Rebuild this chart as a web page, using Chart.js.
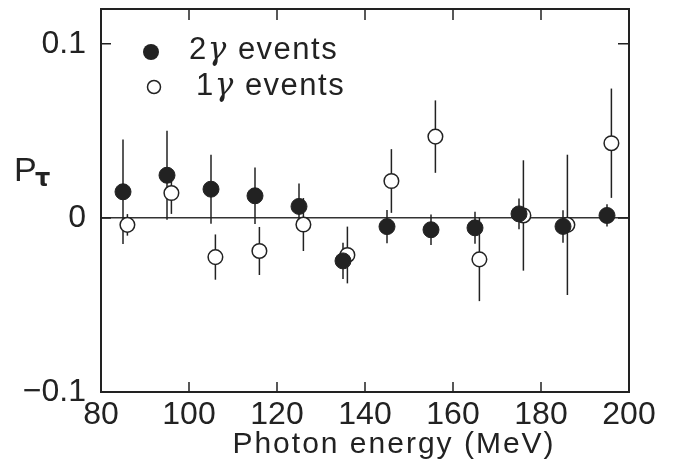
<!DOCTYPE html>
<html>
<head>
<meta charset="utf-8">
<script src="https://cdn.jsdelivr.net/npm/chart.js@4.4.1/dist/chart.umd.min.js"></script>
<style>
	html, body { margin: 0; padding: 0; background: #fff; }
	#wrap { width: 678px; height: 465px; }
</style>
</head>
<body>
<div id="wrap"><canvas id="chart"></canvas></div>
<script>
// photon energy bins (MeV)
var energy2g = [85, 95, 105, 115, 125, 135, 145, 155, 165, 175, 185, 195];
var energy1g = [86, 96, 106, 116, 126, 136, 146, 156, 166, 176, 186, 196];

// P_tau for 2 gamma events and its error
var pol2g = [0.015, 0.0245, 0.0165, 0.0127, 0.0066, -0.0247, -0.005, -0.0068, -0.0057, 0.0023, -0.0049, 0.0014];
var err2g = [0.030, 0.0255, 0.0198, 0.0162, 0.0131, 0.0104, 0.0095, 0.0088, 0.0092, 0.0088, 0.0093, 0.0064];

// P_tau for 1 gamma events and its error
var pol1g = [-0.004, 0.0143, -0.0225, -0.019, -0.0038, -0.0213, 0.0212, 0.0467, -0.0238, 0.0014, -0.004, 0.0429];
var err1g = [0.0062, 0.012, 0.013, 0.0138, 0.0152, 0.0163, 0.0183, 0.0208, 0.024, 0.0317, 0.0403, 0.0314];

var xTicks = [80, 100, 120, 140, 160, 180, 200];
var yTicks = [-0.1, 0, 0.1];

var ink = '#222';
var fontName = '"Liberation Sans", Arial, sans-serif';

function toPoints(xs, ys) {
	var pts = [];
	for (var i = 0; i < xs.length; i++) {
		pts.push({ x: xs[i], y: ys[i] });
	}
	return pts;
}

function fmtTick(v) {
	if (Math.abs(v) < 1e-9) return '0';
	var s = Math.abs(v).toFixed(1);
	return v < 0 ? '\u2212' + s : s;
}

// error bars, drawn under the markers
var errorBars = {
	id: 'errorBars',
	beforeDatasetsDraw: function (chart) {
		var ctx = chart.ctx;
		var yScale = chart.scales.y;
		var errs = [err2g, err1g];
		ctx.save();
		ctx.strokeStyle = ink;
		ctx.lineWidth = 1.5;
		for (var d = 0; d < chart.data.datasets.length; d++) {
			var meta = chart.getDatasetMeta(d);
			var ds = chart.data.datasets[d];
			for (var i = 0; i < meta.data.length; i++) {
				var px = meta.data[i].x;
				var v = ds.data[i].y;
				ctx.beginPath();
				ctx.moveTo(px, yScale.getPixelForValue(v + errs[d][i]));
				ctx.lineTo(px, yScale.getPixelForValue(v - errs[d][i]));
				ctx.stroke();
			}
		}
		ctx.restore();
	}
};

// frame, inward ticks, legend and axis titles
var frame = {
	id: 'frame',
	afterDraw: function (chart) {
		var ctx = chart.ctx;
		var a = chart.chartArea;
		var xs = chart.scales.x, ys = chart.scales.y;
		ctx.save();
		ctx.strokeStyle = ink;
		ctx.lineWidth = 2;
		ctx.strokeRect(a.left, a.top, a.right - a.left, a.bottom - a.top);

		ctx.lineWidth = 1.5;
		ctx.beginPath();
		for (var i = 1; i < xTicks.length - 1; i++) {
			var px = xs.getPixelForValue(xTicks[i]);
			ctx.moveTo(px, a.bottom);
			ctx.lineTo(px, a.bottom - 10);
			ctx.moveTo(px, a.top);
			ctx.lineTo(px, a.top + 11);
		}
		for (var j = 1; j < yTicks.length; j++) {
			var py = ys.getPixelForValue(yTicks[j]);
			ctx.moveTo(a.left, py);
			ctx.lineTo(a.left + 10, py);
			ctx.moveTo(a.right, py);
			ctx.lineTo(a.right - 11, py);
		}
		ctx.stroke();

		// legend
		ctx.fillStyle = ink;
		ctx.beginPath();
		ctx.arc(151, 52, 8, 0, Math.PI * 2);
		ctx.fill();
		ctx.beginPath();
		ctx.fillStyle = '#fff';
		ctx.arc(154, 87, 6.5, 0, Math.PI * 2);
		ctx.fill();
		ctx.stroke();

		ctx.fillStyle = ink;
		ctx.textBaseline = 'alphabetic';
		ctx.letterSpacing = '1.5px';
		drawParts(ctx, 189, 59, '2');
		drawParts(ctx, 196, 95, '1');

		// x title
		ctx.letterSpacing = '2px';
		ctx.font = '30px ' + fontName;
		ctx.textAlign = 'center';
		ctx.fillText('Photon energy (MeV)', 394, 453);
		ctx.textAlign = 'left';
		ctx.letterSpacing = '0px';

		// y title P_tau
		ctx.font = '34px ' + fontName;
		ctx.fillText('P', 14, 181);
		ctx.font = 'bold 24px "DejaVu Sans", sans-serif';
		ctx.fillText('\u03c4', 35, 186);
		ctx.restore();
	}
};

function drawParts(ctx, x, y, digit) {
	ctx.font = '31px ' + fontName;
	ctx.fillText(digit, x, y);
	x += ctx.measureText(digit).width;
	ctx.font = 'italic 31px "DejaVu Serif", serif';
	ctx.fillText('\u03b3', x, y);
	x += ctx.measureText('\u03b3').width;
	ctx.font = '31px ' + fontName;
	ctx.fillText(' events', x, y);
}

var chart = new Chart(document.getElementById('chart'), {
	type: 'scatter',
	data: {
		datasets: [{
			label: '2\u03b3 events',
			data: toPoints(energy2g, pol2g),
			pointRadius: 8,
			pointBackgroundColor: ink,
			pointBorderColor: ink,
			pointBorderWidth: 1
		}, {
			label: '1\u03b3 events',
			data: toPoints(energy1g, pol1g),
			pointRadius: 7.3,
			pointBackgroundColor: '#fff',
			pointBorderColor: ink,
			pointBorderWidth: 1.5
		}]
	},
	options: {
		responsive: true,
		maintainAspectRatio: false,
		animation: false,
		layout: { padding: { top: 4, right: 49, left: 0, bottom: 0 } },
		plugins: {
			legend: { display: false },
			tooltip: { enabled: false }
		},
		scales: {
			x: {
				type: 'linear',
				min: 80,
				max: 200,
				afterFit: function (s) { s.height = 73; s.paddingLeft = 0; s.paddingRight = 0; },
				afterBuildTicks: function (s) {
					s.ticks = xTicks.map(function (v) { return { value: v }; });
				},
				ticks: {
					color: ink,
					padding: 4,
					font: { family: fontName, size: 32 },
					maxRotation: 0,
					autoSkip: false
				},
				grid: { display: false, drawTicks: false },
				border: { display: false }
			},
			y: {
				type: 'linear',
				min: -0.1,
				max: 0.12,
				afterFit: function (s) { s.width = 101; s.paddingTop = 0; s.paddingBottom = 0; },
				afterBuildTicks: function (s) {
					s.ticks = yTicks.map(function (v) { return { value: v }; });
				},
				ticks: {
					color: ink,
					padding: 15,
					font: { family: fontName, size: 32 },
					callback: function (v) { return fmtTick(v); }
				},
				grid: {
					drawTicks: false,
					lineWidth: 1.5,
					color: function (c) {
						return c.tick && Math.abs(c.tick.value) < 1e-9 ? '#333' : 'rgba(0,0,0,0)';
					}
				},
				border: { display: false }
			}
		}
	},
	plugins: [errorBars, frame]
});
</script>
</body>
</html>
